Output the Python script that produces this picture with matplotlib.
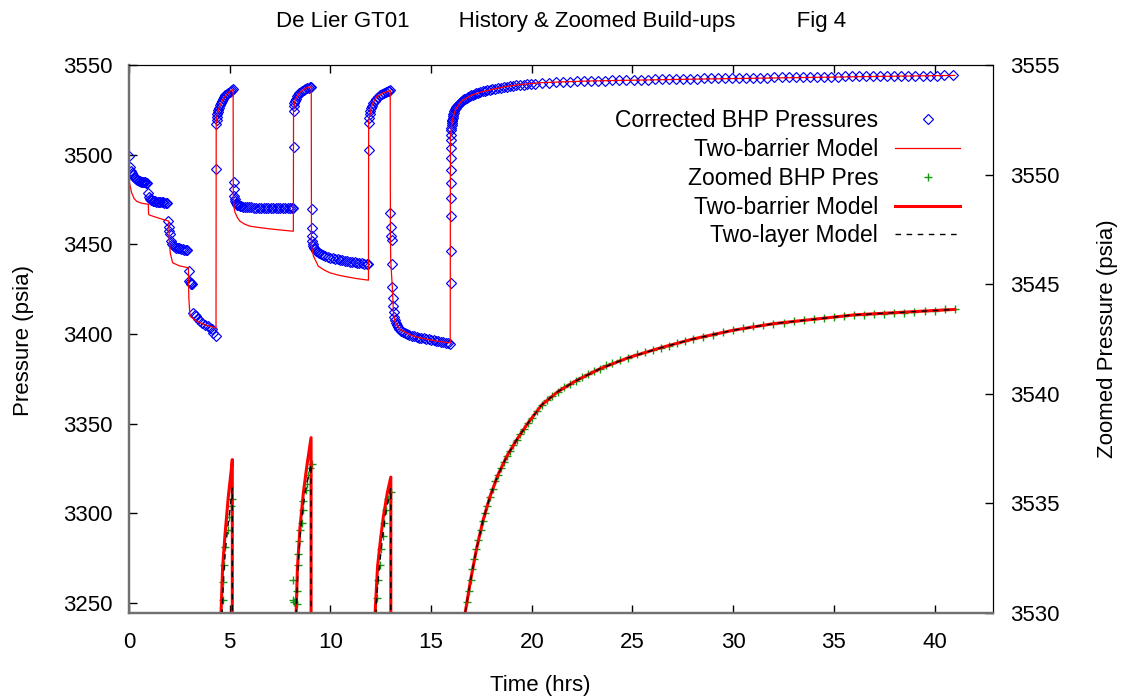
import numpy as np
import matplotlib
matplotlib.use("Agg")
import matplotlib.pyplot as plt

plt.rcParams['font.family'] = ['Liberation Sans', 'DejaVu Sans']

nan = np.nan

# corrected BHP pressures (history), hrs / psia, one pair of lists per flow period
t_early = [0.00, 0.05, 0.10, 0.15, 0.20, 0.25, 0.30, 0.35, 0.40, 0.45, 0.50, 0.55, 0.60, 0.65, 0.70, 0.75, 0.80, 0.85, 0.90,
           0.96, 1.00, 1.04, 1.08, 1.12, 1.18, 1.24, 1.30, 1.36, 1.42, 1.48, 1.55, 1.62, 1.69, 1.76, 1.83, 1.90,
           1.95, 1.98, 2.01, 2.04, 2.08, 2.12, 2.16, 2.22, 2.28, 2.35, 2.42, 2.50, 2.58, 2.66, 2.74, 2.82, 2.90,
           2.96, 2.99, 3.02, 3.06, 3.10, 3.14,
           3.19, 3.26, 3.32, 3.42, 3.52, 3.64, 3.77, 3.93, 4.04, 4.12, 4.19, 4.31]
p_early = [3499.2, 3493.3, 3491.0, 3489.6, 3488.4, 3487.6, 3486.9, 3486.4, 3486.0, 3485.6, 3485.3, 3485.1, 3484.9, 3484.8, 3484.7, 3484.6, 3484.5, 3484.4, 3484.3,
           3478.8, 3476.4, 3475.4, 3474.9, 3474.6, 3474.3, 3474.1, 3473.9, 3473.8, 3473.7, 3473.6, 3473.5, 3473.4, 3473.4, 3473.3, 3473.3, 3473.2,
           3462.9, 3459.6, 3457.4, 3455.6, 3451.6, 3450.2, 3449.5, 3448.9, 3448.5, 3448.2, 3447.9, 3447.7, 3447.5, 3447.3, 3447.1, 3447.0, 3446.8,
           3435.0, 3429.6, 3428.9, 3428.4, 3428.0, 3427.6,
           3411.7, 3410.6, 3409.9, 3408.3, 3407.1, 3406.0, 3405.2, 3404.3, 3403.5, 3402.8, 3400.7, 3399.1]

t_bu1 = [4.33, 4.34, 4.35, 4.36, 4.38, 4.40, 4.43, 4.46, 4.50, 4.55, 4.60, 4.66, 4.72, 4.79, 4.86, 4.93, 5.00, 5.07, 5.13, 5.18]
p_bu1 = [3492.2, 3517.0, 3519.5, 3521.2, 3522.6, 3523.8, 3525.0, 3526.2, 3527.5, 3528.8, 3529.9, 3531.0, 3532.0, 3533.0,
         3533.8, 3534.5, 3535.1, 3535.6, 3536.0, 3536.4]

t_dd2 = [5.20, 5.21, 5.22, 5.24, 5.27, 5.30, 5.34, 5.38, 5.43, 5.50, 5.58, 5.66, 5.75, 5.85, 5.96, 6.08, 6.20, 6.32,
         6.44, 6.56, 6.68, 6.80, 6.92, 7.04, 7.16, 7.28, 7.40, 7.52, 7.64, 7.76, 7.88, 8.00, 8.08, 8.14]
p_dd2 = [3484.7, 3480.6, 3476.9, 3475.2, 3474.0, 3473.2, 3472.6, 3472.2, 3471.8, 3471.5, 3471.2, 3471.0, 3470.9, 3470.8,
         3470.7, 3470.6, 3470.5, 3470.5, 3470.4, 3470.4, 3470.4, 3470.3, 3470.3, 3470.3, 3470.2, 3470.2, 3470.2, 3470.2,
         3470.1, 3470.1, 3470.1, 3470.0, 3470.0, 3470.0]

t_bu2 = [8.17, 8.18, 8.19, 8.21, 8.24, 8.28, 8.33, 8.39, 8.45, 8.52, 8.60, 8.68, 8.76, 8.84, 8.92, 9.00, 9.05]
p_bu2 = [3504.4, 3524.5, 3527.0, 3528.6, 3530.0, 3531.3, 3532.5, 3533.5, 3534.3, 3535.0, 3535.7, 3536.3, 3536.7, 3537.1,
         3537.4, 3537.7, 3537.8]

t_dd3 = [9.07, 9.08, 9.09, 9.10, 9.12, 9.15, 9.19, 9.24, 9.30, 9.37, 9.45, 9.54, 9.64, 9.75, 9.87, 10.00, 10.12, 10.24,
         10.36, 10.48, 10.60, 10.72, 10.84, 10.96, 11.08, 11.20, 11.32, 11.44, 11.56, 11.68, 11.80, 11.89]
p_dd3 = [3469.8, 3459.2, 3454.5, 3451.7, 3450.0, 3448.9, 3448.0, 3447.2, 3446.5, 3445.9, 3445.3, 3444.7, 3444.1, 3443.5,
         3443.0, 3442.5, 3442.2, 3441.9, 3441.6, 3441.3, 3441.0, 3440.8, 3440.6, 3440.4, 3440.2, 3440.0, 3439.8, 3439.6,
         3439.5, 3439.3, 3439.2, 3439.1]

t_bu3 = [11.90, 11.91, 11.93, 11.95, 11.98, 12.02, 12.07, 12.13, 12.20, 12.28, 12.36, 12.45, 12.55, 12.65, 12.75, 12.85,
         12.93, 12.97]
p_bu3 = [3502.4, 3517.5, 3520.5, 3522.5, 3524.2, 3525.8, 3527.2, 3528.6, 3529.9, 3531.2, 3532.2, 3533.1, 3533.9, 3534.5,
         3535.0, 3535.4, 3535.7, 3535.9]

t_dd4 = [12.98, 13.00, 13.02, 13.04, 13.06, 13.08, 13.10, 13.12, 13.14, 13.17, 13.20, 13.24, 13.29, 13.35, 13.42, 13.50,
         13.60, 13.70, 13.80, 13.92, 14.04, 14.16, 14.28, 14.40, 14.52, 14.64, 14.76, 14.88, 15.00, 15.12, 15.24, 15.36,
         15.48, 15.60, 15.72, 15.84, 15.95]
p_dd4 = [3467.6, 3459.5, 3454.5, 3452.6, 3439.3, 3426.0, 3420.1, 3415.4, 3412.0, 3409.5, 3407.8, 3406.3, 3405.0, 3403.8,
         3402.7, 3401.8, 3400.9, 3400.3, 3399.8, 3399.3, 3398.9, 3398.6, 3398.3, 3398.0, 3397.7, 3397.5, 3397.3, 3397.1,
         3396.9, 3396.6, 3396.3, 3396.0, 3395.8, 3395.5, 3395.2, 3394.9, 3394.6]

t_bu4 = [15.97, 15.97, 15.97, 15.97, 15.97, 15.98, 15.98, 15.98, 15.98, 15.99, 16.00, 16.01, 16.02, 16.03, 16.04, 16.05,
         16.07, 16.09, 16.11, 16.13, 16.16, 16.19, 16.22, 16.25, 16.29, 16.33, 16.37, 16.42, 16.47, 16.52, 16.58, 16.64,
         16.70, 16.77, 16.84, 16.91, 16.99, 17.07, 17.16, 17.25, 17.35, 17.45, 17.56, 17.67, 17.79, 17.91, 18.04, 18.17,
         18.31, 18.45, 18.60, 18.75, 18.91, 19.07, 19.24, 19.41, 19.59, 19.77, 19.96, 20.15,
         20.50, 20.85, 21.20, 21.55, 21.90, 22.25, 22.60, 22.95, 23.30, 23.65, 24.00, 24.35, 24.70, 25.05, 25.40, 25.75,
         26.10, 26.45, 26.80, 27.15, 27.50, 27.85, 28.20, 28.55, 28.90, 29.25, 29.60, 29.95, 30.30, 30.65, 31.00, 31.35,
         31.70, 32.05, 32.40, 32.75, 33.10, 33.45, 33.80, 34.15, 34.50, 34.85, 35.20, 35.55, 35.90, 36.25, 36.60, 36.95,
         37.30, 37.65, 38.00, 38.35, 38.70, 39.05, 39.40, 39.75, 40.10, 40.45, 40.90]
p_bu4 = [3428.7, 3446.4, 3465.7, 3475.6, 3484.0, 3491.2, 3497.9, 3503.5, 3508.1, 3511.0, 3513.5, 3515.0, 3516.3, 3517.5,
         3518.5, 3519.3, 3520.6, 3521.7, 3522.6, 3523.4, 3524.4, 3525.2, 3525.9, 3526.5, 3527.2, 3527.8, 3528.3, 3528.9,
         3529.4, 3529.9, 3530.4, 3530.9, 3531.3, 3531.8, 3532.2, 3532.6, 3533.0, 3533.4, 3533.8, 3534.2, 3534.6, 3534.9,
         3535.3, 3535.6, 3535.9, 3536.2, 3536.5, 3536.8, 3537.1, 3537.4, 3537.7, 3537.9, 3538.2, 3538.4, 3538.6, 3538.8,
         3539.0, 3539.2, 3539.4, 3539.6,
         3540.0, 3540.2, 3540.4, 3540.5, 3540.7, 3540.8, 3541.0, 3541.1, 3541.2, 3541.3, 3541.4, 3541.5, 3541.6, 3541.7,
         3541.8, 3541.9, 3542.0, 3542.0, 3542.1, 3542.2, 3542.3, 3542.3, 3542.4, 3542.5, 3542.5, 3542.6, 3542.7, 3542.7,
         3542.8, 3542.8, 3542.9, 3543.0, 3543.0, 3543.1, 3543.1, 3543.2, 3543.2, 3543.3, 3543.3, 3543.4, 3543.4, 3543.5,
         3543.5, 3543.6, 3543.6, 3543.7, 3543.7, 3543.8, 3543.8, 3543.8, 3543.9, 3543.9, 3544.0, 3544.0, 3544.0, 3544.1,
         3544.1, 3544.2, 3544.2]

# two-barrier model over the full history
t_model = [0.00, 0.03, 0.13, 0.25, 0.38, 0.60, 0.96, 0.97, 1.00, 1.50, 1.98, 2.00, 2.05, 2.17, 2.50, 2.95, 2.97, 3.03, 3.36,
           3.80, 4.32, 4.33, 4.36, 4.45, 4.60, 4.80, 5.00, 5.17, 5.18, 5.22, 5.27, 5.40, 5.51, 5.75, 6.01, 6.50, 7.00,
           7.60, 8.16, 8.17, 8.25, 8.50, 8.83, 9.05, 9.06, 9.16, 9.40, 9.70, 9.98, 10.40, 10.80, 11.30, 11.89, 11.90,
           12.06, 12.30, 12.63, 12.97, 12.98, 13.00, 13.08, 13.13, 13.20, 13.46, 14.00, 14.46, 15.20, 15.95, 15.96,
           16.05, 16.20, 16.50, 17.00, 17.50, 18.00, 18.76, 19.50, 20.40, 21.50, 22.90, 25.40, 28.00, 31.00, 34.00,
           37.00, 41.00]
p_model = [3490.0, 3484.0, 3478.8, 3475.6, 3474.0, 3473.0, 3472.3, 3467.0, 3466.4, 3464.5, 3462.9, 3452.0, 3445.0, 3439.7,
           3438.0, 3436.9, 3420.0, 3409.9, 3407.1, 3405.0, 3403.4, 3517.0, 3521.0, 3525.5, 3529.5, 3533.0, 3535.3, 3536.4,
           3477.0, 3470.0, 3467.6, 3464.6, 3462.9, 3461.2, 3460.1, 3459.3, 3458.6, 3457.9, 3457.3, 3525.3, 3530.8, 3535.0,
           3537.4, 3537.8, 3449.0, 3443.4, 3437.8, 3435.6, 3434.1, 3432.8, 3431.9, 3430.9, 3430.0, 3518.7, 3527.7, 3532.3,
           3534.5, 3535.8, 3452.0, 3440.0, 3425.0, 3411.7, 3407.0, 3402.4, 3399.3, 3397.8, 3396.2, 3395.0, 3510.0, 3519.0,
           3525.0, 3529.8, 3533.2, 3535.0, 3536.3, 3538.1, 3539.2, 3540.1, 3540.6, 3541.1, 3541.6, 3542.1, 3542.6, 3543.1,
           3543.6, 3544.2]

# zoomed build-up pressures (right axis)
t_zoom = [4.65, 4.68, 4.72, 4.77, 4.90, 4.98, 5.06, 5.10,
          8.16, 8.16, 8.21, 8.33, 8.33, 8.37, 8.41, 8.44, 8.49, 8.58, 8.63, 8.66, 8.80, 8.86, 8.91, 8.99, 9.07,
          12.25, 12.30, 12.38, 12.47, 12.52, 12.60, 12.68, 12.77, 12.88, 13.00,
          16.69, 16.78, 16.87, 16.96, 17.05, 17.15, 17.25, 17.35, 17.46, 17.57, 17.68, 17.80, 17.92, 18.05, 18.18, 18.32,
          18.46, 18.61, 18.76, 18.92, 19.08, 19.25, 19.42, 19.60, 19.80, 20.00, 20.25, 20.50, 20.75, 21.00, 21.30, 21.60,
          21.90, 22.20, 22.50, 22.80, 23.10, 23.40, 23.70, 24.00, 24.40, 24.80, 25.20, 25.60, 26.00, 26.40, 26.80, 27.20,
          27.60, 28.00, 28.50, 29.00, 29.50, 30.00, 30.50, 31.00, 31.50, 32.00, 32.50, 33.00, 33.50, 34.00, 34.50, 35.00,
          35.50, 36.00, 36.50, 37.00, 37.50, 38.00, 38.50, 39.00, 39.50, 40.00, 40.50, 41.00]
p_zoom = [3530.6, 3531.4, 3532.2, 3533.0, 3533.8, 3534.4, 3534.9, 3535.2,
          3530.6, 3531.5, 3530.5, 3530.4, 3531.0, 3532.7, 3532.2, 3533.3, 3533.8, 3534.1, 3534.7, 3535.1, 3535.6, 3535.9, 3536.3, 3536.6, 3536.8,
          3530.0, 3530.7, 3531.5, 3532.2, 3532.9, 3533.5, 3534.1, 3534.7, 3535.2, 3535.5,
          3530.0, 3530.5, 3531.0, 3531.5, 3532.0, 3532.45, 3532.9, 3533.35, 3533.8, 3534.2, 3534.55, 3534.9, 3535.3, 3535.65,
          3536.0, 3536.3, 3536.6, 3536.9, 3537.15, 3537.4, 3537.65, 3537.9, 3538.15, 3538.4, 3538.65, 3538.9, 3539.2, 3539.5,
          3539.7, 3539.9, 3540.1, 3540.3, 3540.45, 3540.6, 3540.75, 3540.9, 3541.05, 3541.15, 3541.3, 3541.4, 3541.55, 3541.65,
          3541.8, 3541.9, 3542.0, 3542.1, 3542.2, 3542.3, 3542.4, 3542.5, 3542.6, 3542.7, 3542.8, 3542.9, 3543.0, 3543.1,
          3543.15, 3543.2, 3543.25, 3543.3, 3543.35, 3543.4, 3543.45, 3543.5, 3543.55, 3543.6, 3543.6, 3543.65, 3543.65, 3543.7,
          3543.7, 3543.75, 3543.8, 3543.8, 3543.85, 3543.85]

# two-barrier model, zoomed (nan breaks between build-ups)
t_zbar = [4.55, 4.57, 4.65, 4.77, 4.93, 5.05, 5.13, 5.13, nan,
          8.28, 8.30, 8.36, 8.49, 8.66, 8.83, 9.04, 9.04, nan,
          12.20, 12.22, 12.34, 12.47, 12.63, 12.83, 13.00, 13.00, nan,
          16.67, 16.69, 16.96, 17.25, 17.57, 17.92, 18.32, 18.76, 19.25, 19.80, 20.50, 21.30, 22.20, 23.40, 24.80, 26.40,
          28.00, 30.00, 32.00, 34.00, 36.00, 38.00, 41.00]
p_zbar = [3529.4, 3530.0, 3532.1, 3533.6, 3535.3, 3536.3, 3537.0, 3529.0, nan,
          3529.4, 3530.0, 3532.0, 3533.9, 3535.5, 3536.7, 3538.0, 3529.0, nan,
          3529.4, 3530.0, 3532.1, 3533.2, 3534.4, 3535.5, 3536.2, 3529.0, nan,
          3529.5, 3530.0, 3531.5, 3532.9, 3534.2, 3535.3, 3536.3, 3537.15, 3537.9, 3538.65, 3539.5, 3540.1, 3540.6, 3541.15,
          3541.65, 3542.1, 3542.5, 3542.9, 3543.2, 3543.4, 3543.6, 3543.7, 3543.85]

# two-layer model, zoomed
t_zlay = [4.60, 4.65, 4.72, 4.80, 4.90, 5.00, 5.13, 5.13, nan,
          8.28, 8.32, 8.40, 8.50, 8.60, 8.70, 8.80, 8.92, 9.04, 9.04, nan,
          12.23, 12.28, 12.38, 12.50, 12.62, 12.75, 12.88, 13.00, 13.00, nan,
          16.67, 16.69, 16.96, 17.25, 17.57, 17.92, 18.32, 18.76, 19.25, 19.80, 20.50, 21.30, 22.20, 23.40, 24.80, 26.40,
          28.00, 30.00, 32.00, 34.00, 36.00, 38.00, 41.00]
p_zlay = [3529.4, 3530.6, 3532.0, 3533.0, 3533.9, 3534.6, 3535.7, 3529.0, nan,
          3529.4, 3530.5, 3532.2, 3533.6, 3534.5, 3535.2, 3535.8, 3536.3, 3536.8, 3529.0, nan,
          3529.4, 3530.5, 3531.6, 3532.7, 3533.7, 3534.6, 3535.2, 3535.7, 3529.0, nan,
          3529.5, 3530.0, 3531.5, 3532.9, 3534.2, 3535.3, 3536.3, 3537.15, 3537.9, 3538.65, 3539.5, 3540.1, 3540.6, 3541.15,
          3541.65, 3542.1, 3542.5, 3542.9, 3543.2, 3543.4, 3543.6, 3543.7, 3543.85]

t_bhp = t_early + t_bu1 + t_dd2 + t_bu2 + t_dd3 + t_bu3 + t_dd4 + t_bu4
p_bhp = p_early + p_bu1 + p_dd2 + p_bu2 + p_dd3 + p_bu3 + p_dd4 + p_bu4

fig = plt.figure(figsize=(11.21, 6.97), dpi=100)
ax = fig.add_axes([129/1121, 84/697, 864/1121, 548/697])
ax2 = ax.twinx()

h1, = ax.plot(t_bhp, p_bhp, ls='none', marker='D', ms=4.6, mfc='none', mec='#0000ff', mew=0.85,
              label='Corrected BHP Pressures')
h2, = ax.plot(t_model, p_model, color='#ff0000', lw=0.9, label='Two-barrier Model')
h3, = ax2.plot(t_zoom, p_zoom, ls='none', marker='+', ms=6, mec='#119911', mew=1.0, label='Zoomed BHP Pres')
h4, = ax2.plot(t_zbar, p_zbar, color='#ff0000', lw=2.2, label='Two-barrier Model')
h5, = ax2.plot(t_zlay, p_zlay, color='black', lw=1.0, dashes=(4, 4), label='Two-layer Model')

ax.set_xlim(0, 42.9)
ax.set_ylim(3244.4, 3550)
ax2.set_ylim(3530, 3555)
ax.set_xticks(range(0, 45, 5))
ax.set_yticks(range(3250, 3551, 50))
ax2.set_yticks(range(3530, 3556, 5))

ax.tick_params(direction='in', length=6, width=1, labelsize=16, top=True, pad=14)
ax.tick_params(axis='y', pad=12)
ax2.tick_params(direction='in', length=6, width=1, labelsize=16, pad=12)
for a in (ax, ax2):
    a.spines['left'].set_color('#707070')
    a.spines['bottom'].set_color('#707070')
    a.spines['left'].set_linewidth(1.6)
    a.spines['bottom'].set_linewidth(1.6)

fig.text(561/1121, 1 - 22/697, 'De Lier GT01        History & Zoomed Build-ups          Fig 4',
         ha='center', va='center', fontsize=16)
fig.text(24/1121, 1 - 341/697, 'Pressure (psia)', rotation=90, ha='center', va='center', fontsize=16)
fig.text(1107/1121, 1 - 339/697, 'Zoomed Pressure (psia)', rotation=90, ha='center', va='center', fontsize=16)
fig.text(540/1121, 1 - 685/697, 'Time (hrs)', ha='center', va='center', fontsize=16)

leg = ax2.legend(handles=[h1, h2, h3, h4, h5], loc='upper right', bbox_to_anchor=(0.962, 0.919),
                 frameon=False, markerfirst=False, fontsize=16.5, handlelength=2.84, handletextpad=0.74,
                 labelspacing=0.25, borderpad=0, borderaxespad=0, numpoints=1)

fig.savefig('out.png', dpi=100)
